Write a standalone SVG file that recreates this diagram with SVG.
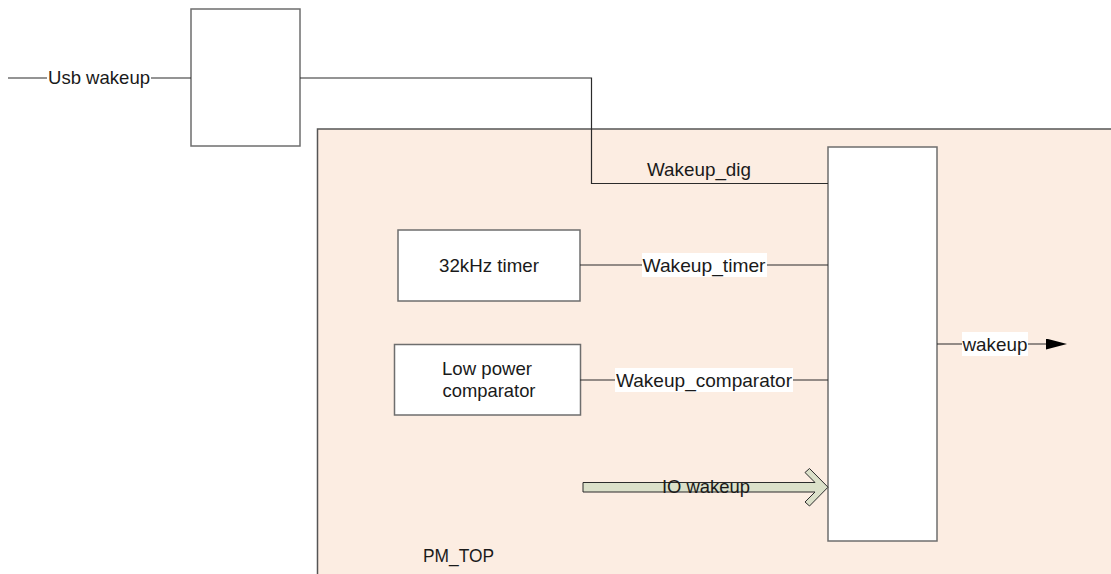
<svg xmlns="http://www.w3.org/2000/svg" width="1111" height="574" viewBox="0 0 1111 574">
<style>
  .box { fill: #ffffff; stroke: #6e6e6e; stroke-width: 1.5; }
  .wire { fill: none; stroke: #2b2b2b; stroke-width: 1.2; }
  .lbl { font-family: "Liberation Sans", Arial, sans-serif; font-size: 18.5px; fill: #1a1a1a; }
  .mid { text-anchor: middle; }
  .lblbg { fill: #ffffff; stroke: none; }
</style>
<defs>
  <marker id="tri" markerWidth="21" markerHeight="11" refX="0" refY="5.5" orient="auto" markerUnits="userSpaceOnUse">
    <path d="M0,0 L21,5.5 L0,11 Z" fill="#000000"/>
  </marker>
</defs>
<rect width="1111" height="574" fill="#ffffff"/>

<g id="pm_top">
  <rect x="317.5" y="129" width="800" height="460" fill="#fcede2" stroke="#555555" stroke-width="1.5"/>
  <text class="lbl" x="423" y="562" textLength="71" lengthAdjust="spacingAndGlyphs">PM_TOP</text>
</g>

<g id="usb_block">
  <rect class="box" x="191" y="9" width="109" height="137"/>
</g>

<g id="timer">
  <rect class="box" x="398" y="230" width="182" height="71"/>
  <text class="lbl" x="439" y="272" textLength="100" lengthAdjust="spacingAndGlyphs">32kHz timer</text>
</g>

<g id="comparator">
  <rect class="box" x="394.5" y="344.5" width="186" height="70.5"/>
  <text class="lbl" x="442" y="375" textLength="90" lengthAdjust="spacingAndGlyphs">Low power</text>
  <text class="lbl" x="442.5" y="397" textLength="93" lengthAdjust="spacingAndGlyphs">comparator</text>
</g>

<g id="wakeup_ctrl">
  <rect class="box" x="828" y="147" width="109" height="394"/>
</g>

<g id="connectors">
  <!-- Usb wakeup -->
  <line class="wire" x1="8" y1="78" x2="191" y2="78"/>
  <rect class="lblbg" x="47" y="66" width="104" height="24"/>
  <text class="lbl" x="48" y="84" textLength="102" lengthAdjust="spacingAndGlyphs">Usb wakeup</text>

  <!-- Wakeup_dig -->
  <polyline class="wire" points="300,78 591.5,78 591.5,183.5 828,183.5"/>
  <text class="lbl" x="647" y="176" textLength="104" lengthAdjust="spacingAndGlyphs">Wakeup_dig</text>

  <!-- Wakeup_timer -->
  <line class="wire" x1="580" y1="265" x2="828" y2="265"/>
  <rect class="lblbg" x="642" y="253" width="125" height="24"/>
  <text class="lbl" x="642.5" y="271.5" textLength="123" lengthAdjust="spacingAndGlyphs">Wakeup_timer</text>

  <!-- Wakeup_comparator -->
  <line class="wire" x1="580" y1="380" x2="828" y2="380"/>
  <rect class="lblbg" x="615" y="368" width="178" height="24"/>
  <text class="lbl" x="616" y="386.5" textLength="176" lengthAdjust="spacingAndGlyphs">Wakeup_comparator</text>

  <!-- IO wakeup bus arrow -->
  <polygon points="583,482.5 815,482.5 805,472.5 809.5,468.5 828,487.2 809.5,506 805,502 815,492 583,492" fill="#dbe0c9" stroke="#2b2b2b" stroke-width="1"/>
  <text class="lbl" x="662" y="493" textLength="88" lengthAdjust="spacingAndGlyphs">IO wakeup</text>

  <!-- wakeup output -->
  <line class="wire" x1="937" y1="344" x2="1046" y2="344" marker-end="url(#tri)"/>
  <rect class="lblbg" x="962" y="332" width="66" height="24"/>
  <text class="lbl" x="962.5" y="350.5" textLength="65" lengthAdjust="spacingAndGlyphs">wakeup</text>
</g>
</svg>
